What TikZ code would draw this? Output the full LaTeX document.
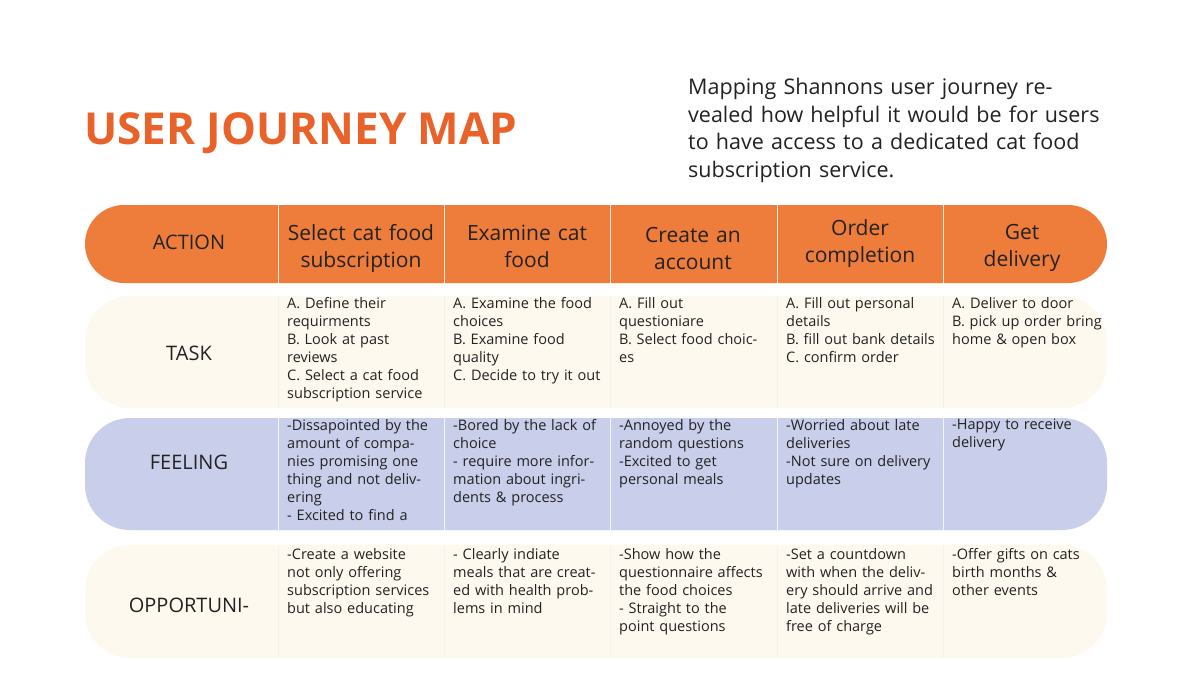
\documentclass[tikz,border=0pt]{standalone}
\usepackage{fontspec}
\setmainfont{Open Sans}
\definecolor{org}{HTML}{EE7D3B}
\definecolor{ttl}{HTML}{E8622A}
\definecolor{crm}{HTML}{FDF9EE}
\definecolor{lav}{HTML}{C9CFEA}
\definecolor{txt}{HTML}{222222}
\begin{document}
\begin{tikzpicture}[x=1pt,y=-1pt,
  cell/.style={anchor=north west,inner sep=0pt,text width=158pt,align=left,font=\fontsize{14.5}{18}\selectfont,text=txt},
  head/.style={anchor=center,inner sep=0pt,text width=160pt,align=center,font=\fontsize{21}{27}\selectfont,text=txt},
  lab/.style={anchor=center,font=\fontsize{20}{24}\selectfont,text=txt}]
\useasboundingbox (0,0) rectangle (1200,686);
\fill[white] (0,0) rectangle (1200,686);
\node[anchor=west,inner sep=0pt,font=\fontsize{44}{50}\selectfont\bfseries,text=ttl] (title) at (84,133) {USER JOURNEY MAP};
\node[anchor=north west,inner sep=0pt,text width=440pt,align=left,font=\fontsize{21.5}{27.5}\selectfont,text=txt] (intro) at (688,78) {Mapping Shannons user journey re-\\vealed how helpful it would be for users\\to have access to a dedicated cat food\\subscription service.};
% bands
\fill[org,rounded corners=39] (85,205) rectangle (1107,283);
\fill[crm,rounded corners=45] (85,296) rectangle (1107,408);
\fill[lav,rounded corners=45] (85,418) rectangle (1107,530);
\fill[crm,rounded corners=45] (85,545) rectangle (1107,658);
\foreach \x in {278,444,610,777,943}{
  \draw[white!85!org,line width=1pt] (\x,205) -- (\x,283);
  \draw[black!6,line width=1pt] (\x,296) -- (\x,408);
  \draw[white!80!lav,line width=1pt] (\x,418) -- (\x,530);
  \draw[black!5,line width=1pt] (\x,545) -- (\x,658);
}
\node[lab] (l1) at (189,242) {ACTION};
\node[lab] (l2) at (189,353) {TASK};
\node[lab] (l3) at (189,462) {FEELING};
\node[lab] (l4) at (189,605) {OPPORTUNI-};
\node[head] (h1) at (361,248) {Select cat food\\subscription};
\node[head] (h2) at (527,246) {Examine cat\\food};
\node[head] (h3) at (693,248) {Create an\\account};
\node[head] (h4) at (860,244) {Order\\completion};
\node[head] (h5) at (1022,248) {Get\\delivery};
% task
\node[cell] (t1) at (287,297) {A. Define their\\requirments\\B. Look at past\\reviews\\C. Select a cat food\\subscription service};
\node[cell] (t2) at (453,297) {A. Examine the food\\choices\\B. Examine food\\quality\\C. Decide to try it out};
\node[cell] (t3) at (619,297) {A. Fill out\\questioniare\\B. Select food choic-\\es};
\node[cell] (t4) at (786,297) {A. Fill out personal\\details\\B. fill out bank details\\C. confirm order};
\node[cell] (t5) at (952,297) {A. Deliver to door\\B. pick up order bring\\home \& open box};
% feeling
\node[cell] (f1) at (287,419) {-Dissapointed by the\\amount of compa-\\nies promising one\\thing and not deliv-\\ering\\- Excited to find a};
\node[cell] (f2) at (453,419) {-Bored by the lack of\\choice\\- require more infor-\\mation about ingri-\\dents \& process};
\node[cell] (f3) at (619,419) {-Annoyed by the\\random questions\\-Excited to get\\personal meals};
\node[cell] (f4) at (786,419) {-Worried about late\\deliveries\\-Not sure on delivery\\updates};
\node[cell] (f5) at (952,419) {-Happy to receive\\delivery};
% opportunity
\node[cell] (o1) at (287,548) {-Create a website\\not only offering\\subscription services\\but also educating};
\node[cell] (o2) at (453,548) {- Clearly indiate\\meals that are creat-\\ed with health prob-\\lems in mind};
\node[cell] (o3) at (619,548) {-Show how the\\questionnaire affects\\the food choices\\- Straight to the\\point questions};
\node[cell] (o4) at (786,548) {-Set a countdown\\with when the deliv-\\ery should arrive and\\late deliveries will be\\free of charge};
\node[cell] (o5) at (952,548) {-Offer gifts on cats\\birth months \&\\other events};
\end{tikzpicture}
\end{document}
